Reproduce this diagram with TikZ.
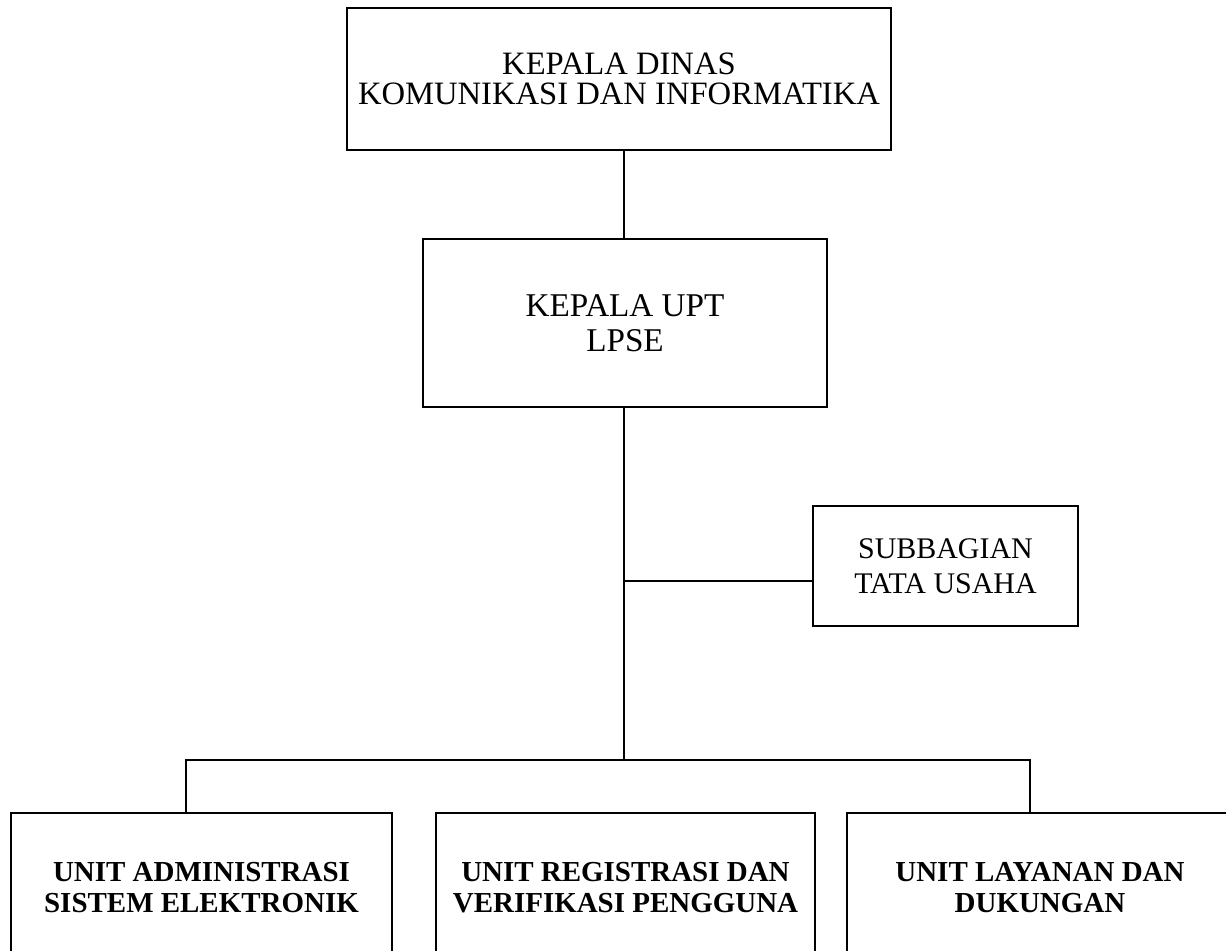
\documentclass[tikz,border=0pt]{standalone}
\usepackage{fontspec}
\setmainfont{Liberation Serif}
\usepackage{tikz}

\begin{document}
\begin{tikzpicture}[
    x=0.025cm, y=-0.025cm,
    box/.style     = {rectangle, draw, line width=1.4pt, inner sep=0pt,
                      outer sep=0pt, align=center,
                      font=\fontsize{21.3}{24.8}\selectfont},
    unitbox/.style = {box, minimum height=3.75cm,
                      font=\fontsize{20.6}{22}\selectfont\bfseries},
    conn/.style    = {line width=1.4pt}
]
\useasboundingbox (0,0) rectangle (1226,951);
\clip (0,0) rectangle (1226,951);

%% Heads
\node[box, minimum width=13.6cm, minimum height=3.55cm,
      font=\fontsize{23.2}{21.3}\selectfont] (dinas) at (619,79)
    {KEPALA DINAS\\KOMUNIKASI DAN INFORMATIKA};
\node[box, minimum width=10.1cm, minimum height=4.2cm,
      font=\fontsize{23.6}{24.8}\selectfont] (upt) at (625,323)
    {KEPALA UPT\\LPSE};
\node[box, minimum width=6.625cm, minimum height=3cm] (sub) at (945.5,566)
    {SUBBAGIAN\\TATA USAHA};

%% Units – bottom row
\node[unitbox, minimum width=9.525cm] (admin)   at (201.5,888)
    {UNIT ADMINISTRASI\\SISTEM ELEKTRONIK};
\node[unitbox, minimum width=9.475cm] (regis)   at (625.5,888)
    {UNIT REGISTRASI DAN\\VERIFIKASI PENGGUNA};
\node[unitbox, minimum width=9.65cm]  (layanan) at (1040,888)
    {UNIT LAYANAN DAN\\DUKUNGAN};

%% Branch points
\coordinate (cabang) at (624,581);
\coordinate (bar)    at (624,760);
\coordinate (kiri)   at (186,760);
\coordinate (kanan)  at (1030,760);

%% Connectors
\draw[conn] (dinas.south -| cabang) -- (upt.north -| cabang);
\draw[conn] (upt.south -| cabang) -- (bar);
\draw[conn] (cabang) -- (cabang -| sub.west);
\draw[conn] (admin.north -| kiri) -- (kiri) -- (kanan) -- (layanan.north -| kanan);

\end{tikzpicture}
\end{document}
